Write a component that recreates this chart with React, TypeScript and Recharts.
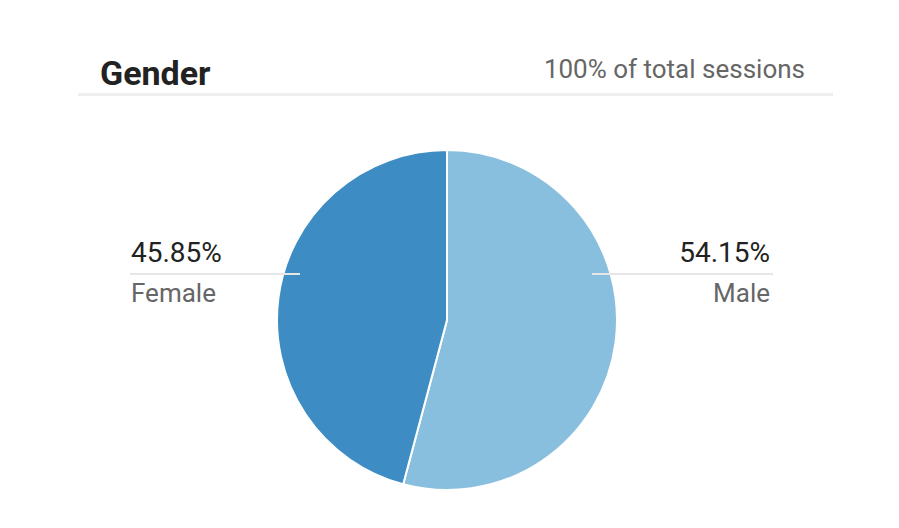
import { PieChart, Pie, Cell } from "recharts";

const genders = ["Male", "Female"];
const shares = [54.15, 45.85];
const colors = ["#89bfde", "#3d8cc4"];

const data = genders.map((name, i) => ({ name, value: shares[i] }));

const renderLabel = (props: any) => {
  const { cx, cy, midAngle, payload } = props;
  const right = Math.cos((-midAngle * Math.PI) / 180) > 0;
  const y = cy - 46;
  const x1 = right ? cx + 145 : cx - 317;
  const x2 = right ? cx + 326 : cx - 147;
  const tx = right ? cx + 323 : cx - 316;
  const anchor = right ? "end" : "start";
  return (
    <g>
      <line x1={x1} x2={x2} y1={y} y2={y} stroke="#e6e6e6" strokeWidth={2} />
      <text x={tx} y={y - 12} textAnchor={anchor} fill="#222" fontSize={28} fontFamily="Roboto">
        {payload.value.toFixed(2)}%
      </text>
      <text x={tx} y={y + 28} textAnchor={anchor} fill="#666" fontSize={26} fontFamily="Roboto">
        {payload.name}
      </text>
    </g>
  );
};

export default function App() {
  return (
    <div style={{ position: "absolute", left: 0, top: 0, width: 899, height: 528, background: "#fff", fontFamily: "Roboto" }}>
      <div style={{ position: "absolute", left: 0, top: 0 }}>
        <PieChart width={899} height={528} margin={{ top: 0, right: 0, bottom: 0, left: 0 }}>
          <Pie
            data={data}
            dataKey="value"
            nameKey="name"
            cx={447}
            cy={320}
            outerRadius={170}
            startAngle={90}
            endAngle={-270}
            stroke="#fff"
            strokeWidth={2}
            label={renderLabel}
            labelLine={false}
            isAnimationActive={false}
          >
            {data.map((d, i) => (
              <Cell key={d.name} fill={colors[i]} />
            ))}
          </Pie>
        </PieChart>
      </div>
      <div style={{ position: "absolute", left: 100, top: 56, fontSize: 34, fontWeight: 700, color: "#222", lineHeight: "34px", whiteSpace: "nowrap" }}>
        Gender
      </div>
      <div style={{ position: "absolute", right: 94, top: 56, fontSize: 26, color: "#666", lineHeight: "26px", whiteSpace: "nowrap" }}>
        100% of total sessions
      </div>
      <div style={{ position: "absolute", left: 78, top: 93, width: 755, height: 3, background: "#eeeeee" }} />
    </div>
  );
}
